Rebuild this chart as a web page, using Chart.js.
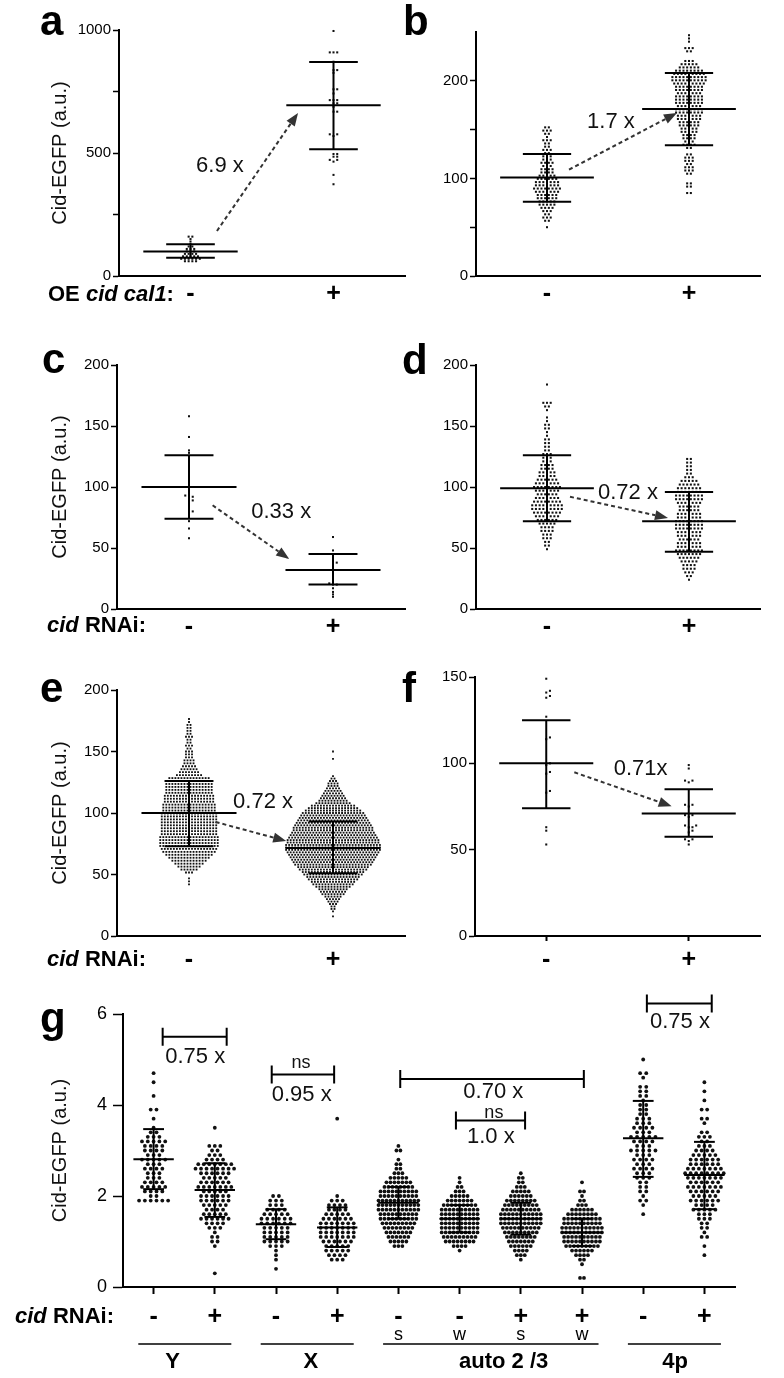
<!DOCTYPE html>
<html lang="en">
<head>
<meta charset="utf-8">
<title>Cid-EGFP levels</title>
<script src="https://cdn.jsdelivr.net/npm/chart.js@4.4.1/dist/chart.umd.min.js"></script>
<style>
  html, body { margin: 0; padding: 0; background: #fff; }
  body { position: relative; width: 784px; height: 1378px; overflow: hidden; }
  canvas { position: absolute; }
</style>
</head>
<body>
<canvas id="panelA"></canvas>
<canvas id="panelB"></canvas>
<canvas id="panelC"></canvas>
<canvas id="panelD"></canvas>
<canvas id="panelE"></canvas>
<canvas id="panelF"></canvas>
<canvas id="panelG"></canvas>
<script>
// ============================================================================
// Data (histogram rows = lo + i * step)
// ============================================================================

const pmCats = [0, 1];
const pmLabels = ['-', '+'];

// a: OE cid cal1
const aMinusLo = 60, aMinusStep = 10;
const aMinusCounts = [4, 6, 5, 4, 3, 3, 2, 1, 1, 1, 2];
const aPlusValues = [996, 909, 909, 909, 871, 837, 837, 826, 759, 759, 742, 715, 715, 715, 702, 702, 688,
    668, 668, 576, 576, 569, 496, 496, 485, 485, 472, 472, 465, 411, 373];
const aMean = [100, 694];
const aSdHigh = [129, 870];
const aSdLow = [74, 515];
const aYTicks = [0, 250, 500, 750, 1000];
const aYLabels = ['0', '', '500', '', '1000'];

// b
const bMinusLo = 50, bMinusStep = 3.3;
const bMinusCounts = [1, 0, 2, 3, 2, 3, 4, 5, 5, 6, 6, 7, 8, 7, 7, 6, 5, 4, 4, 3, 4, 3, 3, 2, 3, 2, 2, 3, 1, 2, 3, 2];
const bPlusLo = 85, bPlusStep = 3.3;
const bPlusCounts = [2, 0, 2, 2, 0, 0, 2, 3, 3, 2, 3, 3, 2, 0, 2, 4, 3, 4, 4, 5, 5, 6, 6, 7, 7, 8, 8, 7, 8, 8,
    8, 7, 8, 8, 9, 10, 10, 9, 8, 6, 5, 3, 0, 0, 2, 3, 0, 1, 1, 1];
const bMean = [101, 171];
const bSdHigh = [125, 208];
const bSdLow = [76, 134];
const bYTicks = [0, 50, 100, 150, 200];
const bYLabels = ['0', '', '100', '', '200'];

// c: cid RNAi
const cMinusValues = [158, 141, 130, 128, 93, 92, 92, 89, 89, 86, 80, 80, 72, 66, 58];
const cPlusValues = [59, 48, 45, 43, 41, 39, 38, 37, 35, 32, 30, 28, 26, 24, 21, 20, 20, 17, 14, 12, 10];
const cMean = [100, 32];
const cSdHigh = [126, 45];
const cSdLow = [74, 20];
const cdeYTicks = [0, 50, 100, 150, 200];
const cdeYLabels = ['0', '50', '100', '150', '200'];

// d
const dMinusLo = 49, dMinusStep = 3;
const dMinusCounts = [1, 2, 2, 3, 3, 4, 4, 5, 6, 7, 8, 9, 9, 8, 7, 6, 7, 8, 7, 6, 5, 5, 4, 4, 3, 3, 3, 2, 2, 2,
    2, 1, 1, 2, 2, 1, 1, 0, 1, 2, 3, 0, 0, 0, 0, 1];
const dPlusLo = 24, dPlusStep = 3;
const dPlusCounts = [1, 2, 3, 4, 4, 5, 6, 7, 8, 7, 7, 6, 7, 7, 8, 8, 8, 7, 7, 6, 6, 7, 8, 8, 7, 7, 6, 5, 3, 2,
    2, 2, 2, 2];
const dMean = [99, 72];
const dSdHigh = [126, 96];
const dSdLow = [72, 47];

// e
const eMinusLo = 42, eMinusStep = 2.4;
const eMinusCounts = [1, 1, 1, 0, 3, 6, 8, 10, 12, 14, 16, 18, 19, 20, 20, 20, 20, 19, 19, 19,
    19, 19, 19, 19, 19, 18, 18, 18, 17, 17, 17, 16, 16, 16, 16, 15, 14, 9, 7, 6,
    5, 4, 4, 3, 3, 3, 2, 3, 2, 2, 3, 2, 2, 2, 2, 1, 1];
const ePlusLo = 16, ePlusStep = 2;
const ePlusCounts = [1, 0, 1, 2, 2, 3, 4, 5, 6, 8, 9, 10, 12, 14, 15, 17, 18, 20, 21, 23,
    24, 26, 27, 28, 29, 30, 31, 32, 32, 32, 31, 31, 30, 29, 28, 27, 27, 26, 25, 24,
    23, 22, 21, 19, 17, 15, 12, 10, 9, 8, 7, 6, 5, 4, 4, 3, 2, 1, 0, 0,
    0, 0, 0, 0, 1, 0, 0, 1];
const eMean = [100, 71.5];
const eSdHigh = [126, 93];
const eSdLow = [73, 51];

// f
const fMinusValues = [149, 142, 141, 139, 138, 127, 115, 114, 100, 99, 95, 94, 84, 83, 63, 61, 53];
const fPlusValues = [99, 97, 90, 90, 89, 76, 76, 75, 70, 70, 69, 64, 64, 63, 63, 61, 60, 56, 56, 55, 53];
const fMean = [100, 71];
const fSdHigh = [125, 85];
const fSdLow = [74, 57.5];
const fYTicks = [0, 50, 100, 150];
const fYLabels = ['0', '50', '100', '150'];

// g: per chromosome
const gCats = [0, 1, 2, 3, 4, 5, 6, 7, 8, 9];
const gXLabels = ['-', '+', '-', '+', '-', '-', '+', '+', '-', '+'];
const gSubLabels = ['', '', '', '', 's', 'w', 's', 'w', '', ''];
const gGroupNames = ['Y', 'X', 'auto 2 /3', '4p'];
const gGroupFirst = [0, 2, 4, 8];
const gGroupLast = [1, 3, 7, 9];
const gStep = 0.1;
const gLo = [1.9, 0.3, 0.4, 0.6, 0.9, 0.8, 0.6, 0.2, 1.6, 0.7];
const gCounts = [
    [6, 2, 4, 5, 4, 3, 3, 4, 3, 5, 3, 4, 4, 5, 3, 2, 1, 0, 1, 0, 2, 0, 0, 1, 0, 0, 1, 0, 1],
    [1, 0, 0, 0, 0, 0, 1, 2, 2, 1, 3, 4, 6, 5, 4, 5, 6, 6, 5, 7, 6, 5, 6, 8, 7, 4, 3, 2, 3, 0, 0, 0, 1],
    [1, 0, 1, 1, 1, 3, 5, 5, 5, 5, 6, 6, 5, 4, 3, 3, 2],
    [3, 4, 5, 5, 6, 7, 7, 7, 7, 6, 5, 4, 4, 3, 1, 0, 0, 0, 0, 0, 0, 0, 0, 0, 0, 0, 0, 0, 0, 0, 0, 1],
    [3, 5, 6, 7, 8, 9, 10, 10, 11, 11, 11, 10, 10, 8, 7, 5, 3, 2, 2, 1, 0, 2, 1],
    [1, 4, 8, 9, 10, 10, 10, 10, 10, 10, 9, 7, 5, 3, 2, 1, 1],
    [1, 3, 4, 6, 7, 8, 9, 10, 11, 11, 11, 10, 9, 8, 6, 5, 3, 2, 2, 1],
    [2, 0, 0, 1, 2, 4, 6, 9, 10, 10, 11, 11, 10, 10, 8, 6, 3, 2, 1, 2, 0, 1],
    [1, 0, 1, 2, 1, 2, 2, 2, 3, 3, 4, 3, 4, 3, 5, 3, 4, 5, 3, 4, 3, 3, 2, 2, 2, 1, 2, 2, 2, 0, 1, 2, 0, 0, 1],
    [1, 0, 1, 0, 2, 1, 2, 2, 3, 3, 5, 4, 6, 5, 6, 7, 6, 7, 8, 7, 6, 6, 5, 4, 3, 2, 3, 2, 0, 1, 2, 0, 2, 0, 1, 0, 1, 0, 1]
];
const gMean = [2.81, 2.13, 1.38, 1.31, 1.85, 1.5, 1.5, 1.2, 3.27, 2.46];
const gSdHigh = [3.47, 2.72, 1.71, 1.75, 2.2, 1.8, 1.85, 1.5, 4.09, 3.19];
const gSdLow = [2.15, 1.54, 1.05, 0.88, 1.5, 1.2, 1.15, 0.9, 2.42, 1.71];
const gYTicks = [0, 2, 4, 6];
const gYLabels = ['0', '2', '4', '6'];

// ============================================================================
// Helpers
// ============================================================================

const FONT = "'Liberation Sans', Arial, Helvetica, sans-serif";
Chart.defaults.font.family = FONT;
Chart.defaults.color = '#000';

/**
 * Rows of a histogram laid out as a centred swarm
 */
function histPoints(lo, step, counts, cat, dx) {
    const pts = [];
    counts.forEach((n, i) => {
        const v = lo + i * step;
        for (let k = 0; k < n; k++) {
            pts.push({ x: cat + (k - (n - 1) / 2) * dx, y: v });
        }
    });
    return pts;
}

/**
 * Individual values, nudged sideways when they collide
 */
function valuePoints(values, cat, dx, gap) {
    const placed = [];
    values.slice().sort((a, b) => a - b).forEach(v => {
        for (let s = 0; ; s++) {
            const slot = s === 0 ? 0 : (s % 2 ? (s + 1) / 2 : -s / 2);
            if (!placed.some(p => p.slot === slot && Math.abs(p.y - v) < gap)) {
                placed.push({ slot: slot, y: v });
                break;
            }
        }
    });
    return placed.map(p => ({ x: cat + p.slot * dx, y: p.y }));
}

function drawArrow(ctx, x1, y1, x2, y2) {
    const ang = Math.atan2(y2 - y1, x2 - x1);
    const head = 13, half = 5;
    const bx = x2 - head * Math.cos(ang), by = y2 - head * Math.sin(ang);
    ctx.save();
    ctx.strokeStyle = '#333';
    ctx.fillStyle = '#333';
    ctx.lineWidth = 2;
    ctx.setLineDash([4, 3]);
    ctx.beginPath();
    ctx.moveTo(x1, y1);
    ctx.lineTo(bx, by);
    ctx.stroke();
    ctx.setLineDash([]);
    ctx.beginPath();
    ctx.moveTo(x2, y2);
    ctx.lineTo(bx + half * Math.sin(ang), by - half * Math.cos(ang));
    ctx.lineTo(bx - half * Math.sin(ang), by + half * Math.cos(ang));
    ctx.closePath();
    ctx.fill();
    ctx.restore();
}

/**
 * Plugin drawing the letters, row labels, arrows, brackets and ratios
 */
function makeDeco(p) {
    const d = p.deco;
    return {
        id: 'deco',
        afterDraw(chart) {
            const ctx = chart.ctx;
            const sx = chart.scales.x, sy = chart.scales.y;
            const X = v => sx.getPixelForValue(v);
            const Y = v => sy.getPixelForValue(v);
            ctx.save();
            ctx.fillStyle = '#000';
            ctx.strokeStyle = '#000';

            // panel letter
            ctx.font = 'bold 42px ' + FONT;
            ctx.textAlign = 'left';
            ctx.textBaseline = 'alphabetic';
            ctx.fillText(d.letter[0], d.letter[1] - p.left, d.letter[2] - p.top);

            // row label (x axis legend)
            if (d.row) {
                let x = d.row.x - p.left;
                ctx.textBaseline = 'middle';
                d.row.parts.forEach(([t, it]) => {
                    ctx.font = (it ? 'italic ' : '') + 'bold 22px ' + FONT;
                    ctx.fillText(t, x, d.row.y - p.top);
                    x += ctx.measureText(t).width;
                });
            }

            (d.arrows || []).forEach(a => drawArrow(ctx, X(a[0]), Y(a[1]), X(a[2]), Y(a[3])));

            ctx.lineWidth = 2;
            (d.brackets || []).forEach(b => {
                const x1 = X(b[0]), x2 = X(b[1]), y = Y(b[2]);
                ctx.beginPath();
                ctx.moveTo(x1, y); ctx.lineTo(x2, y);
                ctx.moveTo(x1, y - 9); ctx.lineTo(x1, y + 9);
                ctx.moveTo(x2, y - 9); ctx.lineTo(x2, y + 9);
                ctx.stroke();
            });

            ctx.textAlign = 'center';
            ctx.textBaseline = 'middle';
            (d.notes || []).forEach(n => {
                ctx.fillStyle = '#111';
                ctx.font = (n[3] || 22) + 'px ' + FONT;
                ctx.fillText(n[0], X(n[1]), Y(n[2]));
            });

            // g: sub labels, group lines and names
            ctx.fillStyle = '#000';
            if (d.subLabels) {
                ctx.font = '18px ' + FONT;
                d.subLabels.forEach((t, i) => { if (t) ctx.fillText(t, X(gCats[i]), 1335 - p.top); });
                ctx.lineWidth = 1.5;
                gGroupFirst.forEach((f, i) => {
                    ctx.beginPath();
                    ctx.moveTo(X(f - 0.25), 1344 - p.top);
                    ctx.lineTo(X(gGroupLast[i] + 0.27), 1344 - p.top);
                    ctx.stroke();
                });
                ctx.font = 'bold 22px ' + FONT;
                gGroupNames.forEach((t, i) => ctx.fillText(t, X(d.groupNameX[i]), 1362 - p.top));
            }
            ctx.restore();
        }
    };
}

function buildPanel(p) {
    const cv = document.getElementById(p.id);
    cv.width = p.w;
    cv.height = p.h;
    cv.style.left = p.left + 'px';
    cv.style.top = p.top + 'px';
    cv.style.width = p.w + 'px';
    cv.style.height = p.h + 'px';

    const yAxisW = p.axisX - p.left;
    const padTop = p.axisTop - p.top;
    const padRight = p.left + p.w - p.axisRight;
    const xAxisH = p.top + p.h - p.axisY;

    const datasets = [];
    const seg = (x1, y1, x2, y2) => datasets.push({
        data: [{ x: x1, y: y1 }, { x: x2, y: y2 }],
        showLine: true, pointRadius: 0, borderColor: '#000', borderWidth: 2, clip: false, order: 0
    });
    p.cats.forEach((c, i) => {
        seg(c - 0.33, p.mean[i], c + 0.33, p.mean[i]);
        seg(c - 0.17, p.hi[i], c + 0.17, p.hi[i]);
        seg(c - 0.17, p.lo[i], c + 0.17, p.lo[i]);
        seg(c, p.lo[i], c, p.hi[i]);
    });
    p.points.forEach(pts => datasets.push({
        data: pts, showLine: false, pointStyle: p.dotStyle, pointRadius: p.dotR,
        pointBackgroundColor: '#111', pointBorderWidth: 0, clip: false, order: 1
    }));

    return new Chart(cv, {
        type: 'scatter',
        data: { datasets: datasets },
        options: {
            responsive: false,
            animation: false,
            devicePixelRatio: 1,
            layout: { padding: { top: padTop, right: padRight, left: 0, bottom: 0 } },
            plugins: { legend: { display: false }, tooltip: { enabled: false } },
            scales: {
                x: {
                    type: 'linear', min: p.xMin, max: p.xMax,
                    afterBuildTicks: s => { s.ticks = p.cats.map(v => ({ value: v })); },
                    afterFit: s => { s.height = xAxisH; },
                    grid: { drawOnChartArea: false, drawTicks: p.xTickLen > 0, tickLength: p.xTickLen, tickColor: '#000', tickWidth: 2 },
                    border: { color: '#000', width: 2 },
                    ticks: {
                        autoSkip: false, maxRotation: 0, padding: p.xPad, color: '#000',
                        font: { size: 25, weight: 'bold' },
                        callback: (v, i) => p.xLabels[i]
                    }
                },
                y: {
                    type: 'linear', min: 0, max: p.yMax,
                    afterBuildTicks: s => { s.ticks = p.yTicks.map(v => ({ value: v })); },
                    afterFit: s => { s.width = yAxisW; },
                    grid: { drawOnChartArea: false, tickLength: p.yTickLen, tickColor: '#000', tickWidth: 1.5 },
                    border: { color: '#000', width: 2 },
                    ticks: { padding: p.yPad, color: '#000', font: { size: p.yFont }, callback: (v, i) => p.yLabels[i] },
                    title: {
                        display: !!p.yTitle, text: 'Cid-EGFP (a.u.)', color: '#111',
                        font: { size: 20 }, padding: { top: 48, bottom: 0 }
                    }
                }
            }
        },
        plugins: [makeDeco(p)]
    });
}

// ============================================================================
// Panels
// ============================================================================

const DX = 0.026;
const DX_DENSE = 0.021;
const rnaiRow = [['cid', true], [' RNAi:', false]];
const small = { xMin: -0.5, xMax: 1.5, cats: pmCats, xLabels: pmLabels, dotStyle: 'rect', dotR: 1.45, yFont: 15, yTickLen: 6, yPad: 2 };

buildPanel(Object.assign({}, small, {
    id: 'panelA', left: 0, top: 0, w: 410, h: 310, axisX: 119, axisTop: 30, axisY: 276, axisRight: 405,
    yMax: 1000, yTicks: aYTicks, yLabels: aYLabels, yTitle: true, xTickLen: 0, xPad: 3,
    mean: aMean, hi: aSdHigh, lo: aSdLow,
    points: [histPoints(aMinusLo, aMinusStep, aMinusCounts, 0, DX), valuePoints(aPlusValues, 1, DX, 10)],
    deco: {
        letter: ['a', 40, 35],
        row: { parts: [['OE ', false], ['cid cal1', true], [':', false]], x: 48, y: 295 },
        arrows: [[0.185, 183, 0.752, 663]],
        notes: [['6.9 x', 0.206, 447]]
    }
}));

buildPanel(Object.assign({}, small, {
    id: 'panelB', left: 392, top: 0, w: 392, h: 310, axisX: 476, axisTop: 32, axisY: 276, axisRight: 760,
    yMax: 250, yTicks: bYTicks, yLabels: bYLabels, xTickLen: 0, xPad: 3,
    mean: bMean, hi: bSdHigh, lo: bSdLow,
    points: [histPoints(bMinusLo, bMinusStep, bMinusCounts, 0, DX), histPoints(bPlusLo, bPlusStep, bPlusCounts, 1, DX)],
    deco: {
        letter: ['b', 403, 35],
        arrows: [[0.155, 109, 0.915, 167]],
        notes: [['1.7 x', 0.45, 158]]
    }
}));

buildPanel(Object.assign({}, small, {
    id: 'panelC', left: 0, top: 320, w: 410, h: 330, axisX: 117, axisTop: 365, axisY: 609, axisRight: 405,
    yMax: 200, yTicks: cdeYTicks, yLabels: cdeYLabels, yTitle: true, xTickLen: 0, xPad: 3,
    mean: cMean, hi: cSdHigh, lo: cSdLow,
    points: [valuePoints(cMinusValues, 0, DX, 2), valuePoints(cPlusValues, 1, DX, 2)],
    deco: {
        letter: ['c', 42, 373],
        row: { parts: rnaiRow, x: 47, y: 626 },
        arrows: [[0.164, 85, 0.696, 41]],
        notes: [['0.33 x', 0.64, 79.5]]
    }
}));

buildPanel(Object.assign({}, small, {
    id: 'panelD', left: 392, top: 320, w: 392, h: 330, axisX: 476, axisTop: 365, axisY: 609, axisRight: 760,
    yMax: 200, yTicks: cdeYTicks, yLabels: cdeYLabels, xTickLen: 0, xPad: 3,
    mean: dMean, hi: dSdHigh, lo: dSdLow,
    points: [histPoints(dMinusLo, dMinusStep, dMinusCounts, 0, DX), histPoints(dPlusLo, dPlusStep, dPlusCounts, 1, DX)],
    deco: {
        letter: ['d', 402, 374],
        arrows: [[0.162, 92, 0.852, 74.6]],
        notes: [['0.72 x', 0.57, 95]]
    }
}));

buildPanel(Object.assign({}, small, {
    id: 'panelE', left: 0, top: 650, w: 410, h: 330, axisX: 117, axisTop: 690, axisY: 936, axisRight: 405,
    yMax: 200, yTicks: cdeYTicks, yLabels: cdeYLabels, yTitle: true, xTickLen: 0, xPad: 9, dotR: 1.3,
    mean: eMean, hi: eSdHigh, lo: eSdLow,
    points: [histPoints(eMinusLo, eMinusStep, eMinusCounts, 0, DX_DENSE), histPoints(ePlusLo, ePlusStep, ePlusCounts, 1, DX_DENSE)],
    deco: {
        letter: ['e', 40, 702],
        row: { parts: rnaiRow, x: 47, y: 960 },
        arrows: [[0.185, 92.7, 0.675, 77.2]],
        notes: [['0.72 x', 0.514, 109]]
    }
}));

buildPanel(Object.assign({}, small, {
    id: 'panelF', left: 392, top: 650, w: 392, h: 330, axisX: 475, axisTop: 677, axisY: 936, axisRight: 760,
    yMax: 150, yTicks: fYTicks, yLabels: fYLabels, xTickLen: 5, xPad: 4,
    mean: fMean, hi: fSdHigh, lo: fSdLow,
    points: [valuePoints(fMinusValues, 0, DX, 1.5), valuePoints(fPlusValues, 1, DX, 1.5)],
    deco: {
        letter: ['f', 402, 702],
        arrows: [[0.197, 94.8, 0.88, 75.1]],
        notes: [['0.71x', 0.662, 96.5]]
    }
}));

const gDx = [0.095, 0.09, 0.095, 0.09, 0.065, 0.065, 0.065, 0.065, 0.1, 0.09];
buildPanel({
    id: 'panelG', left: 0, top: 990, w: 784, h: 388, axisX: 123, axisTop: 1014, axisY: 1287, axisRight: 735,
    xMin: -0.5, xMax: 9.5, cats: gCats, xLabels: gXLabels, xTickLen: 7, xPad: 8,
    yMax: 6, yTicks: gYTicks, yLabels: gYLabels, yFont: 18, yTickLen: 10, yPad: 6, yTitle: true,
    dotStyle: 'circle', dotR: 1.9,
    mean: gMean, hi: gSdHigh, lo: gSdLow,
    points: gCats.map(c => histPoints(gLo[c], gStep, gCounts[c], c, gDx[c])),
    deco: {
        letter: ['g', 40, 1032],
        row: { parts: rnaiRow, x: 15, y: 1317 },
        brackets: [[0.148, 1.194, 5.5], [1.93, 2.95, 4.67], [4.03, 7.03, 4.57], [4.94, 6.07, 3.66], [8.06, 9.12, 6.23]],
        notes: [
            ['0.75 x', 0.68, 5.05], ['ns', 2.41, 4.92, 18], ['0.95 x', 2.42, 4.22],
            ['0.70 x', 5.55, 4.29], ['ns', 5.56, 3.82, 18], ['1.0 x', 5.51, 3.30],
            ['0.75 x', 8.6, 5.82]
        ],
        subLabels: gSubLabels,
        groupNameX: [0.31, 2.57, 5.72, 8.52]
    }
});
</script>
</body>
</html>
